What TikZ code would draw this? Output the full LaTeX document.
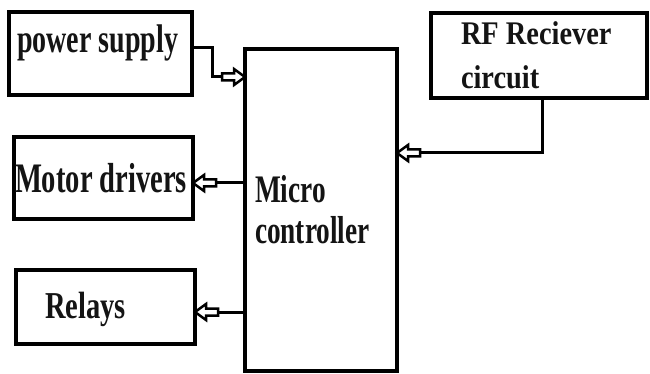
\documentclass[tikz,border=0pt]{standalone}
\usepackage{fontspec}
\setmainfont{Liberation Serif}
\usepackage{graphicx}
\newcommand{\blab}[3]{\scalebox{#2}[1]{\fontsize{#1}{#1}\selectfont\bfseries #3}}
\begin{document}
\begin{tikzpicture}[x=1pt,y=-1pt,
  box/.style={draw=black,line width=3.5pt,rectangle,minimum width=#1,anchor=north west,inner sep=0pt,outer sep=0pt},
  lbl/.style={anchor=base west,inner sep=0pt,outer sep=0pt,text=black!92},
  conn/.style={draw=black,line width=3pt,line join=miter},
  hollowarrow/.pic={\draw[line width=2.5pt,line join=miter,fill=white] (0,0) -- (-11,8) -- (-11,3.5) -- (-23,3.5) -- (-23,-3.5) -- (-11,-3.5) -- (-11,-8) -- cycle;}
]
\useasboundingbox (0,0) rectangle (650,374);
% boxes
\node[box=183pt,minimum height=83pt] (ps) at (9,12) {};
\node[box=216pt,minimum height=85pt] (rf) at (431,13) {};
\node[box=152pt,minimum height=322pt] (mc) at (245,49) {};
\node[box=179pt,minimum height=82pt] (md) at (14,137) {};
\node[box=179pt,minimum height=74pt] (rl) at (16,270) {};
% labels
\node[lbl] (tps) at (17,53) {\blab{40}{0.70}{power supply}};
\node[lbl] (tmd) at (15,193) {\blab{42}{0.68}{Motor drivers}};
\node[lbl] (trl) at (45,318) {\blab{38}{0.75}{Relays}};
\node[lbl] (tmc1) at (255,203) {\blab{39}{0.70}{Micro}};
\node[lbl] (tmc2) at (255,243) {\blab{39}{0.70}{controller}};
\node[lbl] (trf1) at (461,45) {\blab{33}{0.86}{RF Reciever}};
\node[lbl] (trf2) at (461,89) {\blab{33}{0.86}{circuit}};
% connectors
\coordinate (psa) at (mc.west |- 0,77);
\coordinate (rfa) at (mc.east |- 0,153);
\coordinate (mda) at (md.east |- 0,183);
\coordinate (rla) at (rl.east |- 0,312);
\draw[conn] (ps.east |- 0,48) -- (212,48) -- (212,77) -- ([xshift=-23pt]psa);
\pic at (psa) {hollowarrow};
\draw[conn] (rf.south -| 542,0) -- (542,153) -- ([xshift=23pt]rfa);
\pic[rotate=180] at (rfa) {hollowarrow};
\draw[conn] (mc.west |- mda) -- ([xshift=23pt]mda);
\pic[rotate=180] at (mda) {hollowarrow};
\draw[conn] (mc.west |- rla) -- ([xshift=23pt]rla);
\pic[rotate=180] at (rla) {hollowarrow};
\end{tikzpicture}
\end{document}
